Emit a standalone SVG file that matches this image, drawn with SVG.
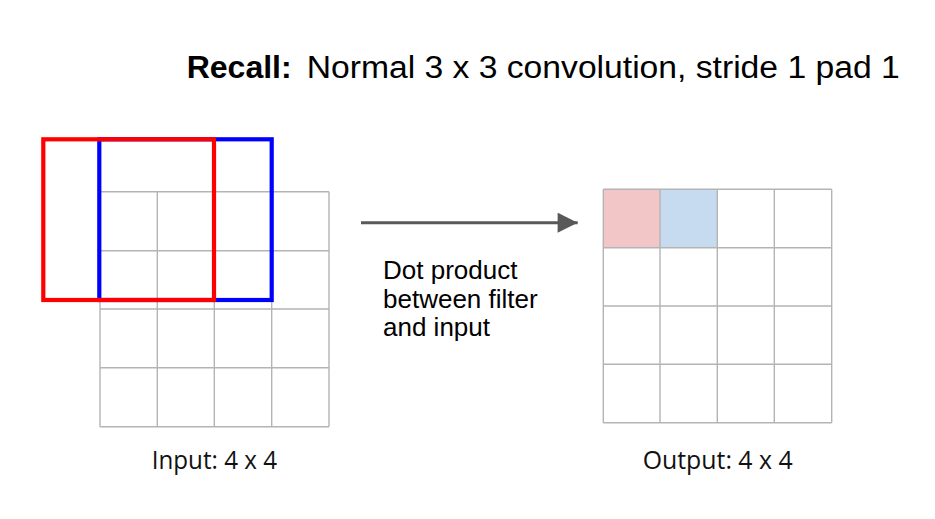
<svg xmlns="http://www.w3.org/2000/svg" width="935" height="519" viewBox="0 0 935 519">
<defs>
<style>
.grid{fill:none;stroke:#b4b4b4;stroke-width:1.4}
.t{font-family:"Liberation Sans",Arial,sans-serif;fill:#000}
.lbl{font-family:"Open Sans","Liberation Sans",sans-serif;fill:#111}
</style>
<marker id="ah" viewBox="0 0 10 10" refX="10" refY="5" markerWidth="9.3" markerHeight="6.7" markerUnits="strokeWidth" orient="auto">
<path d="M0,0 L10,5 L0,10 z" fill="#595959"/>
</marker>
</defs>
<rect width="935" height="519" fill="#fff"/>
<g id="title">
<text class="t" x="186.7" y="78.3" font-size="31" font-weight="bold" textLength="105" lengthAdjust="spacingAndGlyphs">Recall:</text>
<text class="t" x="306.7" y="78.3" font-size="31" textLength="593" lengthAdjust="spacingAndGlyphs">Normal 3 x 3 convolution, stride 1 pad 1</text>
</g>
<g id="input-grid">
<path class="grid" d="M100,191.7H329M100,250.7H329M100,309H329M100,367.7H329M100,426.7H329M100,191.7V426.7M157.3,191.7V426.7M214.3,191.7V426.7M271.7,191.7V426.7M329,191.7V426.7"/>
</g>
<g id="blue-filter">
<rect x="99.3" y="139.3" width="172.4" height="160.7" fill="none" stroke="#0000ff" stroke-width="4.2"/>
</g>
<g id="red-filter">
<rect x="43.3" y="139.3" width="170.7" height="160.7" fill="none" stroke="#ff0000" stroke-width="4.2"/>
</g>
<g id="input-label">
<text class="lbl" x="151.7" y="469.3" font-size="25" textLength="125.3" lengthAdjust="spacingAndGlyphs">Input: 4 x 4</text>
</g>
<g id="output-grid">
<rect x="603.3" y="189.3" width="56.7" height="58.4" fill="#f2c6c6"/>
<rect x="660" y="189.3" width="57.3" height="58.4" fill="#c6dbef"/>
<path class="grid" d="M603.3,189.3H831.7M603.3,247.7H831.7M603.3,306H831.7M603.3,364.3H831.7M603.3,422.7H831.7M603.3,189.3V422.7M660,189.3V422.7M717.3,189.3V422.7M774.3,189.3V422.7M831.7,189.3V422.7"/>
</g>
<g id="output-label">
<text class="lbl" x="642.7" y="469.3" font-size="25" textLength="150" lengthAdjust="spacingAndGlyphs">Output: 4 x 4</text>
</g>
<g id="connectors">
<line x1="361" y1="222.7" x2="577.7" y2="222.7" stroke="#595959" stroke-width="3" marker-end="url(#ah)"/>
</g>
<g id="arrow-label">
<text class="t" font-size="26" fill="#111"><tspan x="383" y="279.3">Dot product</tspan><tspan x="383" y="307.7">between filter</tspan><tspan x="383" y="335.5">and input</tspan></text>
</g>
</svg>
